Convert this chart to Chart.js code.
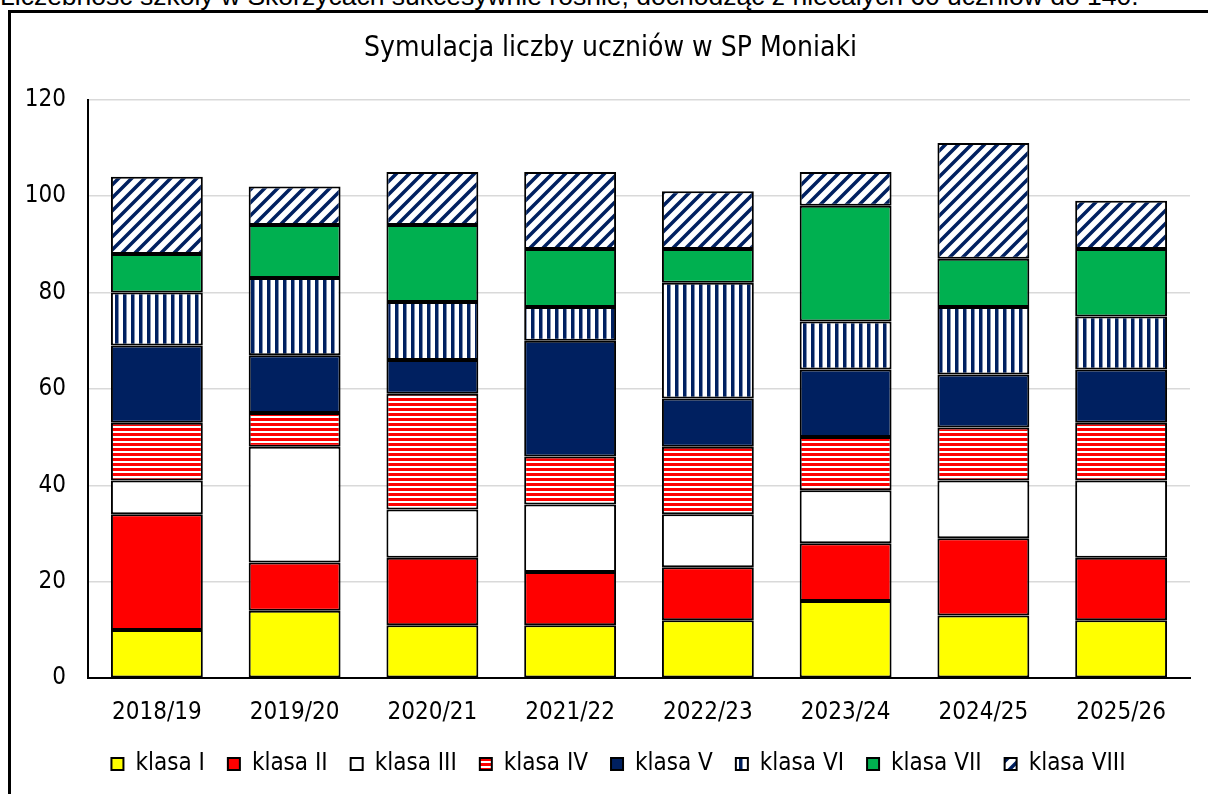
<!DOCTYPE html>
<html>
<head>
<meta charset="utf-8">
<script src="https://cdn.jsdelivr.net/npm/chart.js@4.4.1/dist/chart.umd.min.js"></script>
<style>
  body { margin: 0; background: #fff; overflow: hidden; width: 1208px; height: 794px; position: relative; }
  #note { position: absolute; left: 0; top: -19px; font: 26.5px "Liberation Sans", Arial, sans-serif; white-space: nowrap; color: #000; }
  #box { position: absolute; left: 8px; top: 10px; width: 1300px; height: 900px; border: 3px solid #000; box-sizing: border-box; }
  #wrap { position: absolute; left: 11px; top: 13px; width: 1197px; height: 781px; }
</style>
</head>
<body>
<div id="note">Liczebność szkoły w Skorzycach sukcesywnie rośnie, dochodząc z niecałych 60 uczniów do 140.</div>
<div id="box"></div>
<div id="wrap"><canvas id="myChart"></canvas></div>
<script>
  const years = ["2018/19", "2019/20", "2020/21", "2021/22", "2022/23", "2023/24", "2024/25", "2025/26"];
  const klasaI = [10, 14, 11, 11, 12, 16, 13, 12];
  const klasaII = [24, 10, 14, 11, 11, 12, 16, 13];
  const klasaIII = [7, 24, 10, 14, 11, 11, 12, 16];
  const klasaIV = [12, 7, 24, 10, 14, 11, 11, 12];
  const klasaV = [16, 12, 7, 24, 10, 14, 11, 11];
  const klasaVI = [11, 16, 12, 7, 24, 10, 14, 11];
  const klasaVII = [8, 11, 16, 12, 7, 24, 10, 14];
  const klasaVIII = [16, 8, 11, 16, 12, 7, 24, 10];

  const navy = "#002060";
  const font = '"DejaVu Sans Condensed", "DejaVu Sans", sans-serif';
  const ctx = document.getElementById("myChart");
  const g0 = ctx.getContext("2d");

  // striped fills for klasa IV, VI, VIII
  function pattern(kind) {
    const c = document.createElement("canvas");
    const g = c.getContext("2d");
    if (kind === "h") {
      c.width = 8; c.height = 5;
      g.fillStyle = "#fff"; g.fillRect(0, 0, 8, 5);
      g.fillStyle = "#FF0000"; g.fillRect(0, 0, 8, 3);
    } else if (kind === "v") {
      c.width = 8; c.height = 8;
      g.fillStyle = "#fff"; g.fillRect(0, 0, 8, 8);
      g.fillStyle = navy; g.fillRect(0, 0, 3.5, 8);
    } else {
      const s = 13;
      c.width = s; c.height = s;
      g.fillStyle = "#fff"; g.fillRect(0, 0, s, s);
      g.strokeStyle = navy; g.lineWidth = 3.5;
      g.beginPath();
      g.moveTo(-s, s); g.lineTo(s, -s);
      g.moveTo(-s, 2 * s); g.lineTo(2 * s, -s);
      g.moveTo(0, 2 * s); g.lineTo(2 * s, 0);
      g.stroke();
    }
    return g0.createPattern(c, "repeat");
  }

  function ds(label, data, fill) {
    return { label: label, data: data, backgroundColor: fill, borderColor: "#000", borderWidth: 2, borderSkipped: false };
  }

  // title and legend sit a bit right of the canvas centre in the original
  const nudge = {
    id: "nudge",
    afterLayout(chart) {
      chart.legend.left += 18; chart.legend.right += 18;
      chart.titleBlock.left += 10; chart.titleBlock.right += 10;
    },
  };

  new Chart(ctx, {
    type: "bar",
    data: {
      labels: years,
      datasets: [
        ds("klasa I", klasaI, "#FFFF00"),
        ds("klasa II", klasaII, "#FF0000"),
        ds("klasa III", klasaIII, "#FFFFFF"),
        ds("klasa IV", klasaIV, pattern("h")),
        ds("klasa V", klasaV, navy),
        ds("klasa VI", klasaVI, pattern("v")),
        ds("klasa VII", klasaVII, "#00B050"),
        ds("klasa VIII", klasaVIII, pattern("d")),
      ],
    },
    plugins: [nudge],
    options: {
      responsive: true,
      maintainAspectRatio: false,
      animation: false,
      datasets: { bar: { categoryPercentage: 1, barPercentage: 0.667 } },
      layout: { padding: { left: 0, right: 18, top: 0, bottom: 8 } },
      plugins: {
        title: {
          display: true,
          text: "Symulacja liczby uczniów w SP Moniaki",
          color: "#000",
          font: { family: font, size: 28, weight: "normal" },
          padding: { top: 19, bottom: 34 },
        },
        legend: {
          position: "bottom",
          labels: {
            color: "#000",
            boxWidth: 12,
            boxHeight: 12,
            padding: 23,
            font: { family: font, size: 24 },
          },
        },
        tooltip: { enabled: false },
      },
      scales: {
        x: {
          stacked: true,
          grid: { display: false },
          border: { color: "#000", width: 2 },
          afterFit: function (s) { s.height -= 10; },
          ticks: { color: "#000", padding: 12, font: { family: font, size: 24 } },
        },
        y: {
          stacked: true,
          min: 0,
          max: 120,
          afterFit: function (s) { s.width = 77; },
          ticks: { stepSize: 20, color: "#000", padding: 22, font: { family: font, size: 24 } },
          grid: { color: "#d9d9d9", lineWidth: 1.5, drawTicks: false },
          border: { color: "#000", width: 2 },
        },
      },
    },
  });
</script>
</body>
</html>
